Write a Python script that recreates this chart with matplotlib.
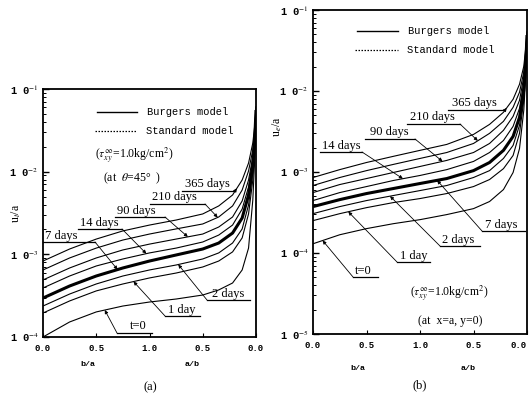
import numpy as np
import matplotlib
matplotlib.use("Agg")
import matplotlib.pyplot as plt
from matplotlib.lines import Line2D
from matplotlib.ticker import FixedLocator, FuncFormatter, LogLocator, NullFormatter

plt.rcParams["mathtext.fontset"] = "stix"

# x runs b/a = 0 -> 1, then a/b = 1 -> 0 (plotted as 0..2)
x = [0.0, 0.25, 0.5, 0.75, 1.0, 1.25, 1.5, 1.65, 1.78, 1.87, 1.93, 1.97, 1.99, 2.0]
xtick_pos = [0.0, 0.5, 1.0, 1.5, 2.0]
xtick_labels = ["0.0", "0.5", "1.0", "0.5", "0.0"]
days = ["t=0", "1 day", "2 days", "7 days", "14 days", "90 days", "210 days", "365 days"]

# (a) u_t/a at theta = 45 deg
ua_t0 = [1.0e-4, 1.52e-4, 2.01e-4, 2.37e-4, 2.65e-4, 2.88e-4, 3.22e-4, 3.71e-4, 4.50e-4, 6.47e-4, 1.19e-3, 4.54e-3, 1.59e-2, 4.84e-2]
ua_1 = [1.95e-4, 2.73e-4, 3.61e-4, 4.38e-4, 5.18e-4, 5.94e-4, 7.03e-4, 8.30e-4, 1.07e-3, 1.58e-3, 3.08e-3, 7.93e-3, 2.22e-2, 5.27e-2]
ua_2 = [2.37e-4, 3.31e-4, 4.38e-4, 5.47e-4, 6.47e-4, 7.43e-4, 8.79e-4, 1.04e-3, 1.37e-3, 2.03e-3, 3.95e-3, 9.91e-3, 2.48e-2, 5.42e-2]
ua_7 = [2.96e-4, 4.14e-4, 5.47e-4, 6.84e-4, 8.30e-4, 9.82e-4, 1.16e-3, 1.37e-3, 1.81e-3, 2.75e-3, 5.22e-3, 1.20e-2, 2.78e-2, 5.57e-2]
ua_14 = [3.92e-4, 5.47e-4, 7.23e-4, 8.79e-4, 1.04e-3, 1.19e-3, 1.41e-3, 1.71e-3, 2.26e-3, 3.53e-3, 6.53e-3, 1.38e-2, 2.94e-2, 5.73e-2]
ua_90 = [4.90e-4, 6.84e-4, 9.04e-4, 1.13e-3, 1.33e-3, 1.53e-3, 1.76e-3, 2.14e-3, 2.83e-3, 4.42e-3, 7.93e-3, 1.50e-2, 3.10e-2, 5.89e-2]
ua_210 = [6.47e-4, 9.04e-4, 1.19e-3, 1.49e-3, 1.76e-3, 2.03e-3, 2.33e-3, 2.83e-3, 3.85e-3, 6.00e-3, 1.02e-2, 1.83e-2, 3.37e-2, 6.05e-2]
ua_365 = [8.30e-4, 1.16e-3, 1.53e-3, 1.92e-3, 2.26e-3, 2.60e-3, 3.08e-3, 3.85e-3, 5.22e-3, 7.93e-3, 1.27e-2, 2.22e-2, 3.78e-2, 6.22e-2]

# (b) u_e/a at x = a, y = 0
ub_t0 = [1.30e-4, 1.68e-4, 2.00e-4, 2.30e-4, 2.58e-4, 2.98e-4, 3.53e-4, 4.32e-4, 6.07e-4, 9.86e-4, 1.95e-3, 5.78e-3, 1.71e-2, 4.25e-2]
ub_1 = [2.51e-4, 3.06e-4, 3.63e-4, 4.19e-4, 4.70e-4, 5.42e-4, 6.61e-4, 8.07e-4, 1.10e-3, 1.60e-3, 3.00e-3, 7.67e-3, 2.02e-2, 4.63e-2]
ub_2 = [3.06e-4, 3.74e-4, 4.44e-4, 5.12e-4, 5.90e-4, 6.81e-4, 8.55e-4, 1.04e-3, 1.47e-3, 2.13e-3, 3.77e-3, 8.85e-3, 2.21e-2, 4.76e-2]
ub_7 = [3.74e-4, 4.56e-4, 5.42e-4, 6.25e-4, 7.21e-4, 8.30e-4, 1.04e-3, 1.31e-3, 1.85e-3, 2.75e-3, 4.73e-3, 1.02e-2, 2.40e-2, 4.90e-2]
ub_14 = [4.44e-4, 5.57e-4, 6.61e-4, 7.85e-4, 9.06e-4, 1.07e-3, 1.35e-3, 1.74e-3, 2.45e-3, 3.66e-3, 6.11e-3, 1.25e-2, 2.69e-2, 5.05e-2]
ub_90 = [5.57e-4, 7.00e-4, 8.30e-4, 9.86e-4, 1.17e-3, 1.39e-3, 1.74e-3, 2.25e-3, 3.27e-3, 4.86e-3, 7.67e-3, 1.48e-2, 3.02e-2, 5.19e-2]
ub_210 = [6.81e-4, 8.55e-4, 1.04e-3, 1.24e-3, 1.47e-3, 1.74e-3, 2.25e-3, 3.00e-3, 4.22e-3, 6.29e-3, 9.66e-3, 1.71e-2, 3.29e-2, 5.35e-2]
ub_365 = [8.55e-4, 1.07e-3, 1.31e-3, 1.56e-3, 1.85e-3, 2.19e-3, 2.91e-3, 3.87e-3, 5.46e-3, 7.91e-3, 1.21e-2, 2.02e-2, 3.58e-2, 5.50e-2]

curves_a = [ua_t0, ua_1, ua_2, ua_7, ua_14, ua_90, ua_210, ua_365]
curves_b = [ub_t0, ub_1, ub_2, ub_7, ub_14, ub_90, ub_210, ub_365]

W, H = 530, 397
SERIF = "Liberation Serif"
MONO = "Liberation Mono"


def P(px, py):
    # pixel (origin top-left) -> figure fraction
    return (px / W, 1 - py / H)


fig = plt.figure(figsize=(W / 100, H / 100), dpi=100)
ax_a = fig.add_axes([43 / W, 1 - 337 / H, 213 / W, 248 / H])
ax_b = fig.add_axes([313 / W, 1 - 334 / H, 214 / W, 324 / H])


def style_axis(ax, ylo):
    ax.set_yscale("log")
    ax.set_xlim(0, 2)
    ax.set_ylim(ylo, 1e-1)
    for s in ax.spines.values():
        s.set_linewidth(1.3)
    ax.xaxis.set_major_locator(FixedLocator(xtick_pos))
    ax.set_xticklabels(xtick_labels, fontfamily=MONO, fontweight="bold", fontsize=6.5)
    ax.yaxis.set_major_locator(LogLocator(base=10))
    ax.yaxis.set_minor_locator(LogLocator(base=10, subs=np.arange(2, 10)))
    ax.yaxis.set_minor_formatter(NullFormatter())
    ax.yaxis.set_major_formatter(FuncFormatter(
        lambda v, p: "1 0$^{%d}$" % round(np.log10(v))))
    for t in ax.get_yticklabels():
        t.set_fontfamily(MONO)
        t.set_fontweight("bold")
    ax.tick_params(axis="both", which="both", direction="in", top=False, right=False)
    ax.tick_params(axis="y", which="major", length=4, width=1.0, labelsize=7.5, pad=3)
    ax.tick_params(axis="y", which="minor", length=2, width=0.7)
    ax.tick_params(axis="x", which="major", length=3, width=0.8, pad=5)


def draw_curves(ax, curves):
    for i, c in enumerate(curves):
        lw = 2.2 if i == 3 else 0.8
        ax.plot(x, c, color="black", lw=lw, solid_capstyle="butt")


def tag(ax, curve, text, tx, ty, u0, u1, uy, from_right, xd):
    fig.text(*P(tx, ty), text, fontfamily=SERIF, fontsize=9, ha="left", va="center")
    fig.add_artist(Line2D([u0 / W, u1 / W], [1 - uy / H] * 2, color="black", lw=0.9))
    yd = 10 ** np.interp(xd, x, np.log10(curve))
    start = P(u1 if from_right else u0, uy)
    ax.annotate("", xy=(xd, yd), xycoords="data", xytext=start,
                textcoords="figure fraction",
                arrowprops=dict(arrowstyle="-|>", lw=0.6, color="black",
                                mutation_scale=5, shrinkA=0, shrinkB=0))


style_axis(ax_a, 1e-4)
style_axis(ax_b, 1e-5)
draw_curves(ax_a, curves_a)
draw_curves(ax_b, curves_b)
# last tick label of (b) sits at the page edge, keep it inside
ax_b.get_xticklabels()[-1].set_horizontalalignment("right")

# legends (drawn by hand like the original)
for (lx0, lx1, ly, tx) in [(97, 137, 112, 147), (357, 398, 31, 408)]:
    fig.add_artist(Line2D([lx0 / W, lx1 / W], [1 - ly / H] * 2, color="black", lw=1.0))
    fig.text(*P(tx, ly), "Burgers model", fontfamily=MONO, fontsize=7.5, va="center")
    fig.add_artist(Line2D([(lx0 - 2) / W, lx1 / W], [1 - (ly + 19) / H] * 2,
                          color="black", lw=0.9, ls=(0, (1.2, 1.2))))
    fig.text(*P(tx - 1, ly + 19), "Standard model", fontfamily=MONO, fontsize=7.5, va="center")

fig.text(*P(95, 155), r"($\tau^{\infty}_{xy}$=1.0kg/cm$^2$)", fontfamily=SERIF, fontsize=8.5, va="center")
fig.text(*P(103, 178), r"(at  $\theta$=45°  )", fontfamily=SERIF, fontsize=8.5, va="center")
fig.text(*P(410, 293), r"($\tau^{\infty}_{xy}$=1.0kg/cm$^2$)", fontfamily=SERIF, fontsize=8.5, va="center")
fig.text(*P(418, 321), "(at  x=a, y=0)", fontfamily=SERIF, fontsize=8.5, va="center")

# (a) labels
tag(ax_a, ua_365, days[7], 185, 184, 182, 235, 191, True, 1.82)
tag(ax_a, ua_210, days[6], 152, 197, 150, 205, 204, True, 1.64)
tag(ax_a, ua_90, days[5], 117, 211, 115, 165, 217, True, 1.36)
tag(ax_a, ua_14, days[4], 80, 223, 78, 122, 229, True, 0.97)
tag(ax_a, ua_7, days[3], 45, 236, 43, 95, 242, True, 0.70)
tag(ax_a, ua_2, days[2], 212, 294, 207, 250, 300, False, 1.27)
tag(ax_a, ua_1, days[1], 168, 310, 165, 200, 316, False, 0.85)
tag(ax_a, ua_t0, days[0], 130, 326, 117, 152, 333, False, 0.58)

# (b) labels
tag(ax_b, ub_365, days[7], 452, 103, 448, 505, 110, True, 1.81)
tag(ax_b, ub_210, days[6], 410, 117, 407, 460, 124, True, 1.54)
tag(ax_b, ub_90, days[5], 370, 132, 365, 415, 139, True, 1.21)
tag(ax_b, ub_14, days[4], 322, 146, 320, 362, 152, True, 0.84)
tag(ax_b, ub_7, days[3], 485, 225, 482, 525, 231, False, 1.16)
tag(ax_b, ub_2, days[2], 442, 240, 440, 480, 246, False, 0.72)
tag(ax_b, ub_1, days[1], 400, 256, 397, 430, 262, False, 0.33)
tag(ax_b, ub_t0, days[0], 355, 271, 353, 378, 277, False, 0.09)

# axis labels
fig.text(*P(16, 213), r"u$_t$/a", fontfamily=SERIF, fontsize=8.5, rotation=90, ha="center", va="center")
fig.text(*P(277, 127), r"u$_e$/a", fontfamily=SERIF, fontsize=8.5, rotation=90, ha="center", va="center")
for (bx, ax_x, yy) in [(88, 192, 365), (358, 468, 368)]:
    fig.text(*P(bx, yy), "b/a", fontfamily=MONO, fontweight="bold", fontsize=6, ha="center", va="center")
    fig.text(*P(ax_x, yy), "a/b", fontfamily=MONO, fontweight="bold", fontsize=6, ha="center", va="center")

fig.text(*P(150, 387), "(a)", fontfamily=SERIF, fontsize=9, ha="center", va="center")
fig.text(*P(420, 385), "(b)", fontfamily=SERIF, fontsize=9, ha="center", va="center")

fig.savefig("out.png", dpi=100)
